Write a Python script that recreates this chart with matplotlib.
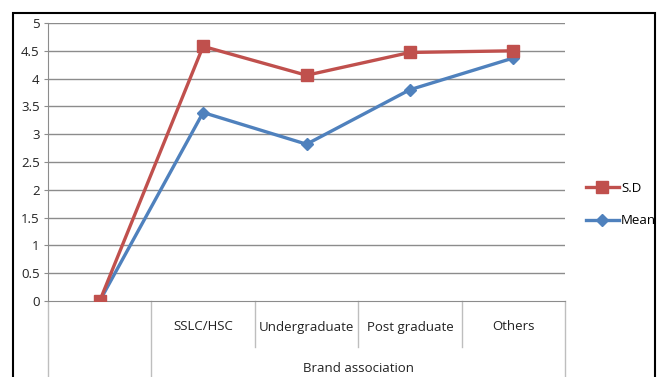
import matplotlib
matplotlib.use("Agg")
import matplotlib.pyplot as plt
from matplotlib.patches import Rectangle
from matplotlib.lines import Line2D
import matplotlib.transforms as mtransforms

categories = ["", "SSLC/HSC", "Undergraduate", "Post graduate", "Others"]
group_label = "Brand association"
sd_values = [0, 4.58, 4.06, 4.47, 4.50]
mean_values = [0, 3.39, 2.82, 3.80, 4.37]
y_ticks = [0, 0.5, 1, 1.5, 2, 2.5, 3, 3.5, 4, 4.5, 5]
y_tick_labels = ["0", "0.5", "1", "1.5", "2", "2.5", "3", "3.5", "4", "4.5", "5"]

W, H = 668, 377
plt.rcParams["font.family"] = ["Open Sans", "DejaVu Sans"]
fig = plt.figure(figsize=(W / 100, H / 100), dpi=100)

def fx(px):
    return px / W

def fy(py):
    return 1 - py / H

left, right, top, bottom = 48, 565, 23, 301
ax = fig.add_axes([fx(left), fy(bottom), fx(right - left), fy(top) - fy(bottom)])

red = "#C0504D"
blue = "#4F81BD"
grid_c = "#8C8C8C"
cat_c = "#BEBEBE"

x = list(range(len(categories)))
ax.plot(x, mean_values, color=blue, lw=2.4, marker="D", ms=6, zorder=3, label="Mean")
ax.plot(x, sd_values, color=red, lw=2.4, marker="s", ms=9, zorder=4, label="S.D")

ax.set_xlim(-0.5, len(categories) - 0.5)
ax.set_ylim(0, 5)
ax.set_yticks(y_ticks)
ax.set_yticklabels(y_tick_labels, fontsize=9.5, color="#222222")
ax.set_xticks([])
for yv in y_ticks[1:]:
    ax.axhline(yv, color=grid_c, lw=1.0, zorder=1)
for s in ["top", "right"]:
    ax.spines[s].set_visible(False)
ax.spines["left"].set_color(grid_c)
ax.spines["bottom"].set_color(grid_c)
ax.tick_params(axis="y", length=3, color=grid_c, pad=3)

# multi-level category axis below the plot
trans = mtransforms.blended_transform_factory(ax.transData, fig.transFigure)
inner_bottom = fy(347)
for xb in [1.5, 2.5, 3.5]:
    ax.add_line(Line2D([xb, xb], [fy(bottom), inner_bottom], transform=trans,
                       color=cat_c, lw=1.0, clip_on=False))
for xb in [-0.5, 0.5, 4.5]:
    ax.add_line(Line2D([xb, xb], [fy(bottom), 0], transform=trans,
                       color=cat_c, lw=1.0, clip_on=False))
for xi, lab in zip(x, categories):
    ax.text(xi, fy(327), lab, transform=trans, ha="center", va="center",
            fontsize=9.5, color="#222222", clip_on=False)
ax.text(2.5, fy(369), group_label, transform=trans, ha="center", va="center",
        fontsize=9.5, color="#222222", clip_on=False)

# legend
handles = [Line2D([], [], color=red, lw=2.4, marker="s", ms=9),
           Line2D([], [], color=blue, lw=2.4, marker="D", ms=6)]
leg = fig.legend(handles, ["S.D", "Mean"], loc="upper left",
                 bbox_to_anchor=(fx(586), fy(182)), frameon=False,
                 fontsize=9.5, handlelength=2.5, handletextpad=0.15,
                 labelspacing=1.45, borderaxespad=0, borderpad=0)
leg.set_zorder(5)

# chart frame
fig.patches.append(Rectangle((fx(656), 0), 1, 1, transform=fig.transFigure,
                             facecolor="white", edgecolor="none", zorder=10))
fig.patches.append(Rectangle((fx(13), -0.1), fx(655) - fx(13), fy(13) + 0.1,
                             transform=fig.transFigure, facecolor="none",
                             edgecolor="black", lw=1.5, zorder=11))

fig.savefig("out.png", dpi=100)
